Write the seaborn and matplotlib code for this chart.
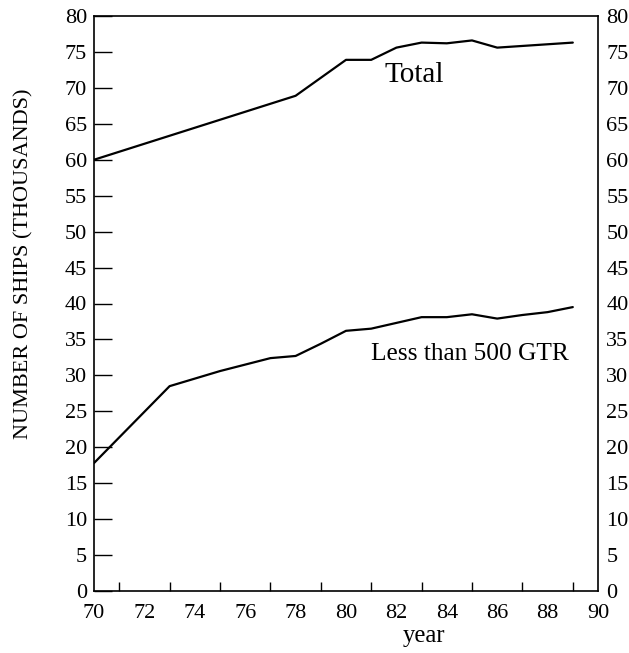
import matplotlib
matplotlib.use("Agg")
import matplotlib.pyplot as plt
import seaborn as sns
import pandas as pd
from matplotlib.ticker import MultipleLocator

# Data
total_years = [70, 78, 80, 81, 82, 83, 84, 85, 86, 89]
total_values = [60.0, 68.9, 73.9, 73.9, 75.6, 76.3, 76.2, 76.6, 75.6, 76.3]
small_years = [70, 73, 75, 77, 78, 79, 80, 81, 82, 83, 84, 85, 86, 87, 88, 89]
small_values = [17.8, 28.5, 30.6, 32.4, 32.7, 34.4, 36.2, 36.5, 37.3, 38.1, 38.1, 38.5, 37.9, 38.4, 38.8, 39.5]
series_names = ["Total", "Less than 500 GTR"]

df = pd.concat([
    pd.DataFrame({"year": total_years, "ships": total_values, "series": series_names[0]}),
    pd.DataFrame({"year": small_years, "ships": small_values, "series": series_names[1]}),
])

sns.set_theme(style="white")
plt.rcParams["font.family"] = ["Liberation Serif", "DejaVu Serif"]

fig = plt.figure(figsize=(6.29, 6.53), dpi=100)
ax = fig.add_axes([94/629, 1 - 591/653, (598-94)/629, (591-16)/653])

sns.lineplot(data=df, x="year", y="ships", hue="series", units="series",
             estimator=None, palette=["black", "black"], linewidth=1.6,
             legend=False, ax=ax)

ax.set_xlim(70, 90)
ax.set_ylim(0, 80)
ax.xaxis.set_major_locator(MultipleLocator(2))
ax.xaxis.set_minor_locator(MultipleLocator(1))
ax.yaxis.set_major_locator(MultipleLocator(5))
ax.set_xlabel("")
ax.set_ylabel("")

for s in ax.spines.values():
    s.set_color("black")
    s.set_linewidth(1.2)

ax.tick_params(axis="x", which="major", direction="in", length=13, width=1,
               color="black", labelsize=16, pad=9, labelcolor="black")
ax.tick_params(axis="x", which="minor", direction="in", length=6.5, width=1,
               color="black", bottom=True)
ax.tick_params(axis="y", which="major", direction="in", length=13, width=1,
               color="black", labelsize=16, pad=5, labelcolor="black", left=True)

ax2 = ax.twinx()
ax2.set_ylim(0, 80)
ax2.yaxis.set_major_locator(MultipleLocator(5))
ax2.tick_params(axis="y", length=0, labelsize=16, pad=6, labelcolor="black")
ax2.grid(False)
for s in ax2.spines.values():
    s.set_visible(False)

ax.text(82.7, 71.8, series_names[0], fontsize=21, ha="center", va="center", color="black")
ax.text(84.9, 33.0, series_names[1], fontsize=18.3, ha="center", va="center", color="black")

fig.text(24/629, 1 - 264/653, "NUMBER OF SHIPS (THOUSANDS)", rotation=90,
         ha="center", va="center", fontsize=16, color="black")
fig.text(424/629, 1 - 636/653, "year", ha="center", va="center", fontsize=17.7, color="black")

fig.savefig("out.png", dpi=100)
